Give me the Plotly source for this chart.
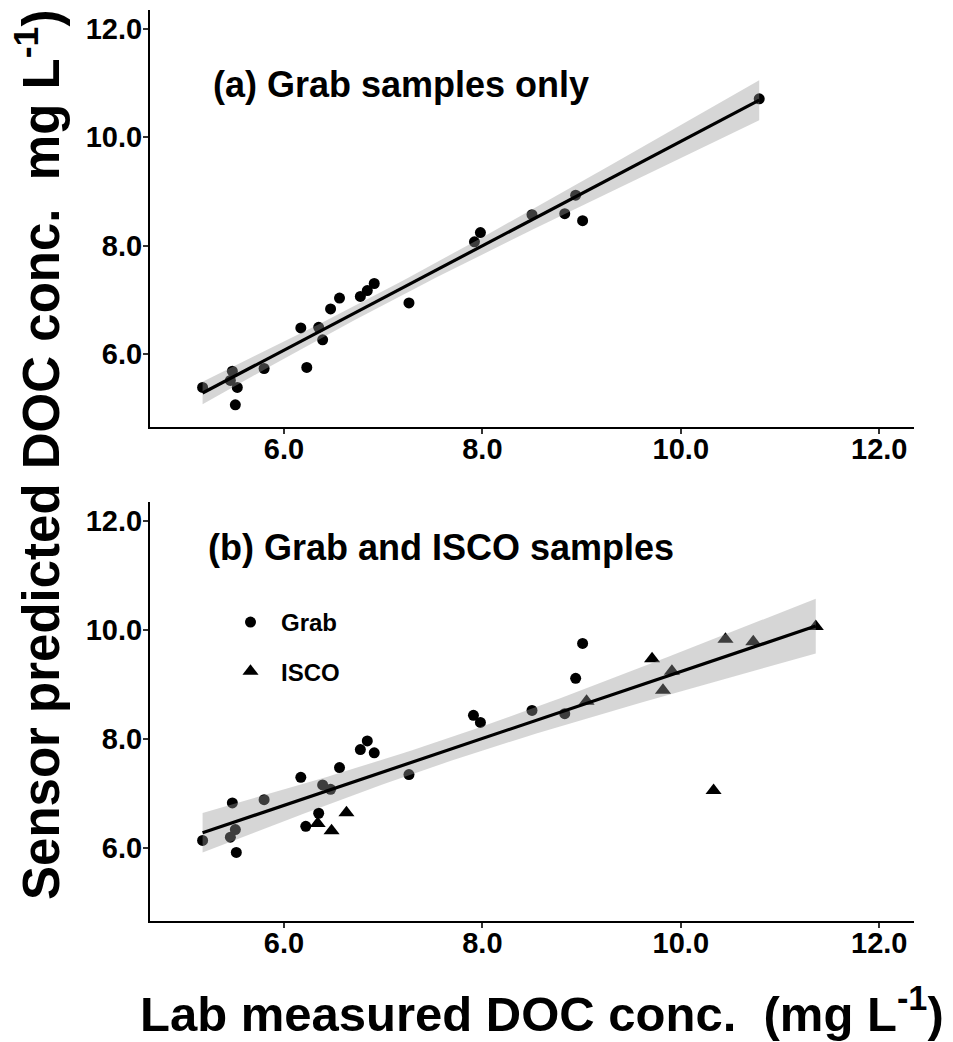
import numpy as np
import plotly.graph_objects as go

# ---------------- data ----------------
# Panel (a): grab samples only
a_lab = [5.18, 5.48, 5.46, 5.53, 5.51, 5.80, 6.17, 6.23, 6.35, 6.39, 6.47, 6.56,
         6.77, 6.84, 6.91, 7.26, 7.92, 7.98, 8.50, 8.83, 8.94, 9.01, 10.79]
a_pred = [5.38, 5.68, 5.51, 5.38, 5.06, 5.73, 6.48, 5.75, 6.49, 6.26, 6.83, 7.03,
          7.06, 7.17, 7.30, 6.94, 8.07, 8.24, 8.57, 8.59, 8.93, 8.46, 10.71]

# Panel (b): grab and ISCO samples
b_grab_lab = [5.18, 5.48, 5.51, 5.46, 5.52, 5.80, 6.17, 6.22, 6.35, 6.39, 6.47,
              6.56, 6.77, 6.84, 6.91, 7.26, 7.91, 7.98, 8.50, 8.83, 8.94, 9.01]
b_grab_pred = [6.13, 6.82, 6.33, 6.19, 5.91, 6.88, 7.29, 6.39, 6.63, 7.15, 7.07,
               7.47, 7.80, 7.96, 7.74, 7.34, 8.43, 8.30, 8.52, 8.46, 9.11, 9.75]
b_isco_lab = [6.34, 6.48, 6.63, 9.05, 9.71, 9.82, 9.91, 10.33, 10.45, 10.73, 11.36]
b_isco_pred = [6.44, 6.31, 6.64, 8.69, 9.47, 8.89, 9.24, 7.05, 9.83, 9.78, 10.06]

tick_vals = [6, 8, 10, 12]
tick_text = ["6.0", "8.0", "10.0", "12.0"]
axis_range = [4.65, 12.35]

FONT = "Liberation Sans, Arial, sans-serif"


def t975(df):
    z = 1.959964
    return (z + (z**3 + z) / (4 * df) + (5 * z**5 + 16 * z**3 + 3 * z) / (96 * df**2)
            + (3 * z**7 + 19 * z**5 + 17 * z**3 - 15 * z) / (384 * df**3))


def lm_band(x, y):
    x = np.asarray(x, float)
    y = np.asarray(y, float)
    n = len(x)
    b, a = np.polyfit(x, y, 1)
    resid = y - (a + b * x)
    s = np.sqrt(np.sum(resid**2) / (n - 2))
    xbar = x.mean()
    sxx = np.sum((x - xbar) ** 2)
    xs = np.linspace(x.min(), x.max(), 80)
    fit = a + b * xs
    se = s * np.sqrt(1.0 / n + (xs - xbar) ** 2 / sxx)
    t = t975(n - 2)
    return xs, fit, fit - t * se, fit + t * se


fig = go.Figure()

# ---- panel (a) ----
fig.add_trace(go.Scatter(x=a_lab, y=a_pred, mode="markers", xaxis="x", yaxis="y",
                         marker=dict(symbol="circle", size=11, color="black"),
                         showlegend=False))
xs, fit, lo, hi = lm_band(a_lab, a_pred)
fig.add_trace(go.Scatter(x=np.concatenate([xs, xs[::-1]]), y=np.concatenate([hi, lo[::-1]]),
                         fill="toself", fillcolor="rgba(153,153,153,0.4)", line=dict(width=0),
                         mode="lines", xaxis="x", yaxis="y", showlegend=False, hoverinfo="skip"))
fig.add_trace(go.Scatter(x=xs, y=fit, mode="lines", line=dict(color="black", width=3.2),
                         xaxis="x", yaxis="y", showlegend=False))

# ---- panel (b) ----
fig.add_trace(go.Scatter(x=b_grab_lab, y=b_grab_pred, mode="markers", xaxis="x2", yaxis="y2",
                         name="Grab", legendgroup="g",
                         marker=dict(symbol="circle", size=11, color="black")))
fig.add_trace(go.Scatter(x=b_isco_lab, y=b_isco_pred, mode="markers", xaxis="x2", yaxis="y2",
                         name="ISCO", legendgroup="i",
                         marker=dict(symbol="triangle-up", size=14, color="black")))
all_x = b_grab_lab + b_isco_lab
all_y = b_grab_pred + b_isco_pred
xs, fit, lo, hi = lm_band(all_x, all_y)
fig.add_trace(go.Scatter(x=np.concatenate([xs, xs[::-1]]), y=np.concatenate([hi, lo[::-1]]),
                         fill="toself", fillcolor="rgba(153,153,153,0.4)", line=dict(width=0),
                         mode="lines", xaxis="x2", yaxis="y2", showlegend=False, hoverinfo="skip"))
fig.add_trace(go.Scatter(x=xs, y=fit, mode="lines", line=dict(color="black", width=3.2),
                         xaxis="x2", yaxis="y2", showlegend=False))

W, H = 953, 1042


def px_x(p):
    return p / W


def px_y(p):
    return 1 - p / H


axis_common = dict(range=axis_range, tickvals=tick_vals, ticktext=tick_text,
                   showline=True, linecolor="black", linewidth=2, ticks="outside",
                   ticklen=5, tickwidth=2, tickcolor="#333333", showgrid=False,
                   zeroline=False, mirror=False,
                   tickfont=dict(family=FONT, size=29, color="black", weight="bold"))
x_common = dict(axis_common, ticklabelstandoff=-10)
y_common = dict(axis_common, ticklabelstandoff=-5)

fig.update_layout(
    width=W, height=H,
    margin=dict(l=0, r=0, t=0, b=0),
    paper_bgcolor="white", plot_bgcolor="white",
    xaxis=dict(domain=[px_x(150), px_x(914)], anchor="y", **x_common),
    yaxis=dict(domain=[px_y(427), px_y(10)], anchor="x", **y_common),
    xaxis2=dict(domain=[px_x(150), px_x(914)], anchor="y2", **x_common),
    yaxis2=dict(domain=[px_y(921), px_y(502)], anchor="x2", **y_common),
    showlegend=True,
    legend=dict(x=px_x(220), y=px_y(600), xanchor="left", yanchor="top",
                bgcolor="rgba(0,0,0,0)", itemwidth=51, tracegroupgap=15,
                font=dict(family=FONT, size=24, color="black", weight="bold")),
    annotations=[
        dict(text="(a) Grab samples only", x=px_x(211), y=px_y(84), xref="paper", yref="paper",
             xanchor="left", yanchor="middle", showarrow=False,
             font=dict(family=FONT, size=36, color="black", weight="bold")),
        dict(text="(b) Grab and ISCO samples", x=px_x(206), y=px_y(547), xref="paper", yref="paper",
             xanchor="left", yanchor="middle", showarrow=False,
             font=dict(family=FONT, size=36, color="black", weight="bold")),
        dict(text="Lab measured DOC conc.  (mg L<sup>-1</sup>)", x=px_x(542), y=px_y(1010),
             xref="paper", yref="paper", xanchor="center", yanchor="middle", showarrow=False,
             font=dict(family=FONT, size=49, color="black", weight="bold")),
        dict(text="Sensor predicted DOC conc.  mg L<sup>-1</sup>)", x=px_x(38), y=px_y(455),
             xref="paper", yref="paper", xanchor="center", yanchor="middle", showarrow=False,
             textangle=-90,
             font=dict(family=FONT, size=51, color="black", weight="bold")),
    ],
)

fig.write_html("out.html")
